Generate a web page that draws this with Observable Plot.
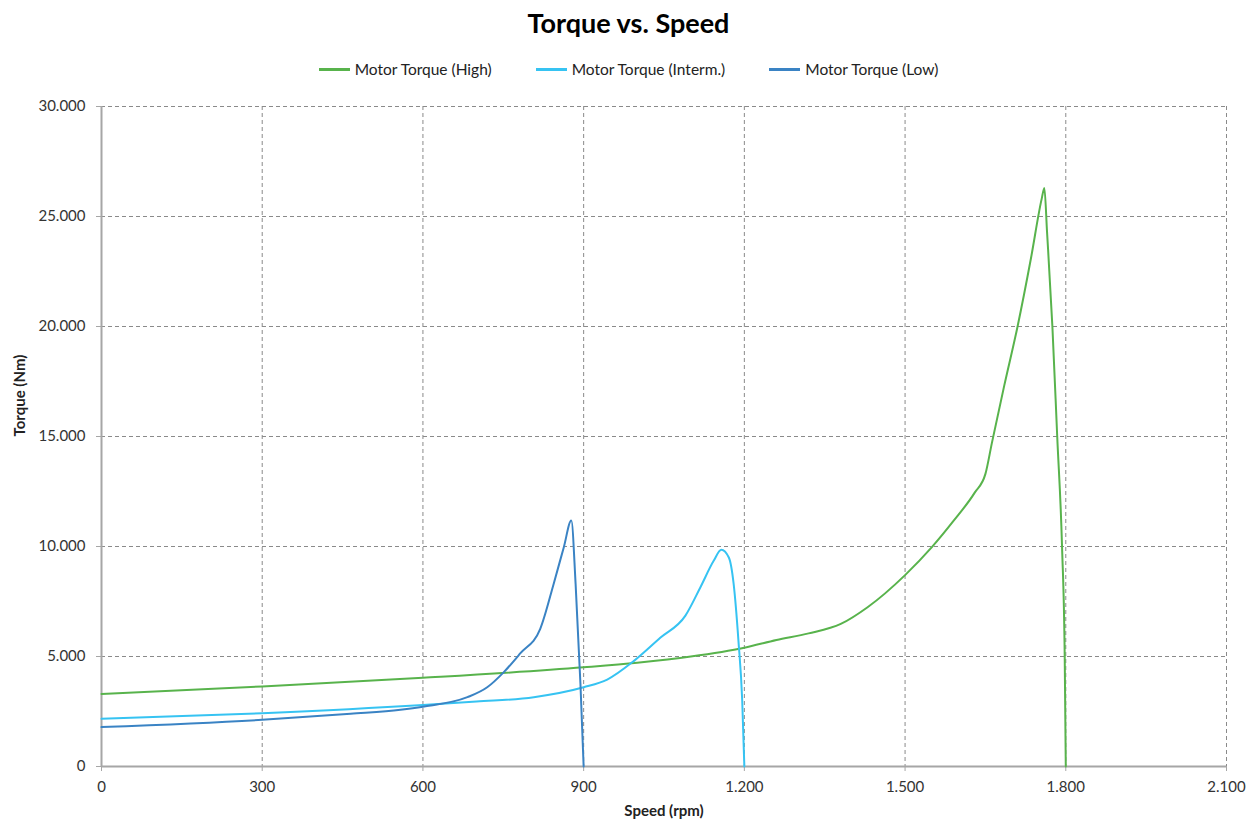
<!DOCTYPE html>
<html><head><meta charset="utf-8">
<script src="https://cdn.jsdelivr.net/npm/d3@7"></script>
<script src="https://cdn.jsdelivr.net/npm/@observablehq/plot@0.6"></script>
<style>
body{margin:0;background:#fff;font-family:Lato,"Open Sans",sans-serif;}
#title{height:46px;line-height:46px;text-align:center;font-weight:bold;font-size:27px;color:#000;}
#legend{height:46px;display:flex;justify-content:center;align-items:center;font-size:15.5px;color:#222;}
.item{display:flex;align-items:center;margin:0 22px;}
.sw{width:31px;height:3px;margin-right:5px;}
</style></head><body>
<div id="title">Torque vs. Speed</div>
<div id="legend"></div>
<div id="chart"></div>
<script>
const seriesNames = ["Motor Torque (High)", "Motor Torque (Interm.)", "Motor Torque (Low)"];
const seriesColors = ["#58b34c", "#36c3f2", "#3a83c4"];

const highRpm    = [0, 300, 600, 900, 1000, 1100, 1200, 1260, 1320, 1380, 1430, 1500, 1550, 1590, 1630, 1650, 1662, 1685, 1710, 1735, 1755, 1760, 1765, 1775, 1784, 1793, 1798, 1800];
const highTorque = [3300, 3640, 4030, 4510, 4720, 5000, 5400, 5750, 6050, 6480, 7240, 8700, 9970, 11150, 12450, 13300, 14700, 17300, 20000, 23100, 25800, 26300, 24300, 20000, 15000, 10000, 5000, 0];

const intRpm     = [0, 300, 600, 700, 807, 900, 944, 994, 1043, 1090, 1118, 1143, 1157, 1171, 1180, 1189, 1196, 1200];
const intTorque  = [2170, 2420, 2790, 2950, 3150, 3600, 3950, 4800, 5850, 6860, 8150, 9360, 9850, 9500, 8300, 5700, 3000, 0];

const lowRpm     = [0, 300, 465, 558, 600, 683, 720, 751, 782, 819, 844, 863, 877, 885, 894, 900];
const lowTorque  = [1790, 2120, 2400, 2580, 2720, 3150, 3600, 4290, 5150, 6260, 8300, 9970, 11180, 8300, 3770, 0];

const xTicks = [0, 300, 600, 900, 1200, 1500, 1800, 2100];
const yTicks = [0, 5000, 10000, 15000, 20000, 25000, 30000];

const rows = [];
[[highRpm, highTorque], [intRpm, intTorque], [lowRpm, lowTorque]].forEach(([xs, ys], i) => {
  xs.forEach((x, j) => rows.push({series: seriesNames[i], rpm: x, torque: ys[j]}));
});

const fmt = d3.formatLocale({decimal: ",", thousands: ".", grouping: [3], currency: ["", "€"]}).format(",");

const legend = document.getElementById("legend");
seriesNames.forEach((n, i) => {
  const it = document.createElement("div"); it.className = "item";
  const sw = document.createElement("div"); sw.className = "sw"; sw.style.background = seriesColors[i];
  const tx = document.createElement("span"); tx.textContent = n;
  it.appendChild(sw); it.appendChild(tx); legend.appendChild(it);
});

const grid = {stroke: "#8a8a8a", strokeOpacity: 1, strokeDasharray: "4,3", strokeWidth: 1};
const chart = Plot.plot({
  width: 1257, height: 733,
  marginTop: 14, marginBottom: 59, marginLeft: 101, marginRight: 31,
  x: {domain: [0, 2100]},
  y: {domain: [0, 30000]},
  color: {domain: seriesNames, range: seriesColors},
  style: {fontFamily: "Lato, 'Open Sans', sans-serif", fontSize: "15px", color: "#333", background: "#fff"},
  marks: [
    Plot.gridX(xTicks.slice(1), grid),
    Plot.gridY(yTicks.slice(1), grid),
    Plot.axisX(xTicks, {tickFormat: fmt, tickSize: 5, tickPadding: 10, label: null, stroke: "#a6a6a6", fill: "#333", fontSize: 15}),
    Plot.axisY(yTicks, {tickFormat: fmt, tickSize: 5, tickPadding: 11, label: null, stroke: "#a6a6a6", fill: "#333", fontSize: 15}),
    Plot.ruleX([0], {stroke: "#a6a6a6", strokeWidth: 2}),
    Plot.ruleY([0], {stroke: "#a6a6a6", strokeWidth: 2}),
    Plot.line(rows, {x: "rpm", y: "torque", z: "series", stroke: "series", strokeWidth: 2, curve: "monotone-x"}),
    Plot.text(["Speed (rpm)"], {frameAnchor: "bottom", dy: 49, fontWeight: "bold", fontSize: 15, fill: "#222"}),
    Plot.text(["Torque (Nm)"], {frameAnchor: "left", dx: -81, rotate: -90, fontWeight: "bold", fontSize: 15, fill: "#222"})
  ]
});
document.getElementById("chart").appendChild(chart);
</script>
</body></html>
